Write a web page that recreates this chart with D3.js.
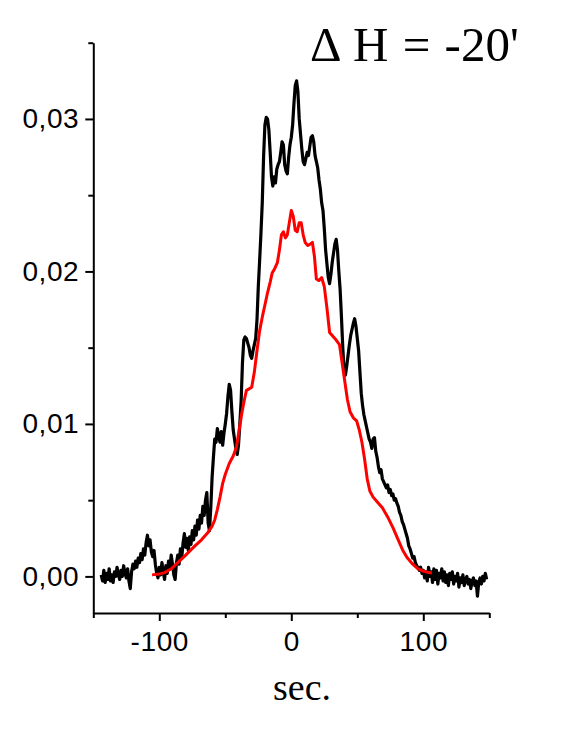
<!DOCTYPE html>
<html><head><meta charset="utf-8">
<script src="https://cdn.jsdelivr.net/npm/d3@7"></script>
<style>html,body{margin:0;padding:0;background:#fff;}</style>
</head><body>
<svg id="c" width="572" height="740"></svg>
<script>
const titleText = "\u0394 H = -20'";
const xLabel = "sec.";
const xMajorTicks = [-100, 0, 100];
const xMinorTicks = [-150, -50, 50, 150];
const xTickLabels = ["-100", "0", "100"];
const yMajorTicks = [0, 0.01, 0.02, 0.03];
const yMinorTicks = [0.005, 0.015, 0.025, 0.035];
const yTickLabels = ["0,00", "0,01", "0,02", "0,03"];

const black = [
[-144,0.0001],[-143,-0.0003],[-142,0.0004],[-141,-0.0004],[-140,0.0002],[-139,-0.0002],[-138,0.0005],[-137,-0.0003],[-136,0.0001],[-135,-0.0004],[-134,0.0003],[-133,0.0000],[-132,0.0006],[-131,0.0001],[-130,-0.0002],[-129,0.0004],[-128,0.0000],[-127,0.0007],[-126,0.0002],[-125,-0.0001],[-124,0.0005],[-123,-0.0003],[-122,-0.0008],[-121,0.0003],[-120,0.0008],[-119,0.0005],[-118,0.0010],[-117,0.0006],[-116,0.0012],[-115,0.0009],[-114,0.0015],[-113,0.0011],[-112,0.0018],[-111,0.0014],[-110,0.0022],[-109,0.0027],[-108,0.0020],[-107,0.0024],[-106,0.0016],[-105,0.0013],[-104,0.0017],[-103,0.0008],[-102,0.0002],[-101,-0.0001],[-100,0.0006],[-99,0.0001],[-98,0.0009],[-97,0.0003],[-96,-0.0002],[-95,0.0007],[-94,0.0002],[-93,0.0010],[-92,0.0005],[-91,0.0014],[-90,0.0008],[-89,0.0001],[-88,-0.0002],[-87,0.0009],[-86,0.0014],[-85,0.0008],[-84,0.0018],[-83,0.0012],[-82,0.0022],[-81,0.0028],[-80,0.0019],[-79,0.0025],[-78,0.0017],[-77,0.0026],[-76,0.0021],[-75,0.0030],[-74,0.0024],[-73,0.0033],[-72,0.0027],[-71,0.0037],[-70,0.0031],[-69,0.0040],[-68,0.0035],[-67,0.0046],[-66,0.0040],[-65,0.0050],[-64,0.0055],[-63,0.0035],[-62,0.0030],[-61,0.0045],[-60,0.0065],[-59,0.0078],[-58,0.0090],[-57,0.0088],[-56,0.0097],[-55,0.0092],[-54,0.0088],[-53,0.0095],[-52,0.0086],[-51,0.0094],[-50,0.0100],[-49,0.0107],[-48,0.0118],[-47,0.0126],[-46,0.0122],[-45,0.0108],[-44,0.0096],[-43,0.0090],[-42,0.0084],[-41,0.0080],[-40,0.0086],[-39,0.0100],[-38,0.0115],[-37,0.0140],[-36,0.0155],[-35,0.0157],[-34,0.0156],[-33,0.0153],[-32,0.0150],[-31,0.0145],[-30,0.0143],[-29,0.0148],[-28,0.0152],[-27,0.0156],[-26,0.0168],[-25,0.0190],[-24,0.0207],[-23,0.0225],[-22,0.0245],[-21,0.0275],[-20,0.0296],[-19,0.0301],[-18,0.0300],[-17,0.0293],[-16,0.0278],[-15,0.0262],[-14,0.0256],[-13,0.0262],[-12,0.0258],[-11,0.0267],[-10,0.0270],[-9,0.0272],[-8,0.0278],[-7,0.0285],[-6,0.0283],[-5,0.0270],[-4,0.0266],[-3,0.0264],[-2,0.0275],[-1,0.0283],[0,0.0288],[1,0.0296],[2,0.0310],[3,0.0322],[4,0.0325],[5,0.0318],[6,0.0300],[7,0.0290],[8,0.0280],[9,0.0272],[10,0.0270],[11,0.0274],[12,0.0278],[13,0.0276],[14,0.0282],[15,0.0288],[16,0.0289],[17,0.0285],[18,0.0276],[19,0.0272],[20,0.0268],[21,0.0260],[22,0.0254],[23,0.0245],[24,0.0240],[25,0.0228],[26,0.0214],[27,0.0205],[28,0.0196],[29,0.0192],[30,0.0198],[31,0.0206],[32,0.0212],[33,0.0218],[34,0.0221],[35,0.0214],[36,0.0200],[37,0.0188],[38,0.0170],[39,0.0150],[40,0.0135],[41,0.0132],[42,0.0138],[43,0.0145],[44,0.0152],[45,0.0158],[46,0.0162],[47,0.0166],[48,0.0169],[49,0.0164],[50,0.0156],[51,0.0148],[52,0.0134],[53,0.0120],[54,0.0112],[55,0.0106],[56,0.0102],[57,0.0098],[58,0.0094],[59,0.0090],[60,0.0088],[61,0.0084],[62,0.0090],[63,0.0091],[64,0.0082],[65,0.0078],[66,0.0072],[67,0.0068],[68,0.0070],[69,0.0064],[70,0.0062],[71,0.0060],[72,0.0058],[73,0.0060],[74,0.0055],[75,0.0057],[76,0.0053],[77,0.0054],[78,0.0050],[79,0.0051],[80,0.0048],[81,0.0046],[82,0.0042],[83,0.0040],[84,0.0036],[85,0.0034],[86,0.0031],[87,0.0028],[88,0.0025],[89,0.0020],[90,0.0018],[91,0.0015],[92,0.0012],[93,0.0013],[94,0.0009],[95,0.0007],[96,0.0006],[97,0.0004],[98,0.0006],[99,0.0002],[100,0.0004],[101,-0.0001],[102,0.0003],[103,-0.0003],[104,0.0006],[105,0.0000],[106,0.0003],[107,-0.0004],[108,0.0005],[109,-0.0002],[110,0.0004],[111,-0.0005],[112,0.0002],[113,-0.0001],[114,0.0005],[115,-0.0003],[116,0.0003],[117,-0.0004],[118,0.0001],[119,-0.0006],[120,0.0002],[121,-0.0002],[122,0.0003],[123,-0.0005],[124,0.0000],[125,-0.0003],[126,0.0002],[127,-0.0007],[128,-0.0001],[129,-0.0004],[130,0.0001],[131,-0.0006],[132,-0.0002],[133,0.0000],[134,-0.0005],[135,-0.0002],[136,-0.0008],[137,-0.0003],[138,-0.0001],[139,-0.0006],[140,-0.0003],[141,-0.0013],[142,-0.0004],[143,-0.0001],[144,-0.0005],[145,0.0000],[146,-0.0003],[147,0.0002],[148,-0.0002]
];

const red = [
[-105.5,0.00010],[-100,0.00015],[-96,0.00025],[-91,0.0005],[-86,0.0009],[-80,0.0014],[-73,0.0020],[-68,0.0024],[-63,0.0029],[-60,0.0033],[-58,0.0037],[-56,0.0044],[-54,0.0052],[-52,0.0061],[-50,0.0067],[-47,0.0074],[-44,0.0079],[-41.5,0.0085],[-39.5,0.0096],[-37.5,0.0107],[-35.5,0.0116],[-34,0.0122],[-32,0.0123],[-30,0.0124],[-28,0.0134],[-26,0.0148],[-24,0.0161],[-22,0.0170],[-20,0.0178],[-18,0.0186],[-16,0.0193],[-14.5,0.0199],[-12.5,0.0202],[-10.5,0.0206],[-9,0.0214],[-7.5,0.0224],[-6,0.0226],[-4.5,0.0222],[-3,0.0224],[-1.5,0.0232],[0,0.0240],[1.5,0.0236],[3,0.0227],[4.5,0.0226],[6,0.0232],[7.5,0.0232],[9,0.0224],[10.5,0.0219],[12.5,0.0217],[14.5,0.0218],[16,0.0219],[17.5,0.0210],[19,0.0195],[21,0.0194],[23,0.0196],[25,0.0190],[27,0.0176],[29,0.0160],[31,0.0158],[34,0.0155],[36.5,0.0152],[38.5,0.0140],[40.5,0.0128],[42.5,0.0116],[44.5,0.0108],[47,0.0104],[49.5,0.0102],[51.5,0.0096],[53.5,0.0088],[55.5,0.0077],[57.5,0.0064],[59.5,0.0056],[62,0.0052],[65,0.0049],[69,0.0045],[73,0.0039],[77,0.0032],[81,0.0024],[84.5,0.0017],[88,0.0012],[92,0.0008],[96,0.0005],[100,0.00035],[104,0.00025],[106.5,0.00022]
];

const svg = d3.select("#c");
const x = d3.scaleLinear().domain([-150, 150]).range([93.3, 489.3]);
const y = d3.scaleLinear().domain([-0.0024, 0.035]).range([613, 42.7]);

const sans = "'Liberation Sans', Arial, sans-serif";
const serif = "'Liberation Serif', 'Times New Roman', serif";

// x axis: major ticks with labels, minor ticks without
const gx = svg.append("g").attr("transform", `translate(0,${y(-0.0024)})`);
gx.call(d3.axisBottom(x).tickValues(xMajorTicks).tickSize(8).tickSizeOuter(0).tickFormat((d, i) => xTickLabels[i]));
gx.selectAll("text").attr("font-family", sans).attr("font-size", 28).attr("letter-spacing", 0.6)
  .attr("fill", "#000").attr("y", 18).attr("dy", "0.71em");
const gxm = svg.append("g").attr("transform", `translate(0,${y(-0.0024)})`);
gxm.call(d3.axisBottom(x).tickValues(xMinorTicks).tickSize(5).tickSizeOuter(0).tickFormat(""));
gxm.select(".domain").remove();

// y axis
const gy = svg.append("g").attr("transform", `translate(${x(-150)},0)`);
gy.call(d3.axisLeft(y).tickValues(yMajorTicks).tickSize(8).tickSizeOuter(0).tickFormat((d, i) => yTickLabels[i]));
gy.selectAll("text").attr("font-family", sans).attr("font-size", 28).attr("letter-spacing", 0.6)
  .attr("fill", "#000").attr("x", -14);
const gym = svg.append("g").attr("transform", `translate(${x(-150)},0)`);
gym.call(d3.axisLeft(y).tickValues(yMinorTicks).tickSize(5).tickSizeOuter(0).tickFormat(""));
gym.select(".domain").remove();

svg.selectAll(".domain, .tick line").attr("stroke", "#000").attr("stroke-width", 2);

const line = d3.line().x(d => x(d[0])).y(d => y(d[1]));
svg.append("path").datum(black).attr("d", line).attr("fill", "none")
  .attr("stroke", "#000").attr("stroke-width", 3.2).attr("stroke-linejoin", "round");
svg.append("path").datum(red).attr("d", line).attr("fill", "none")
  .attr("stroke", "#ff0000").attr("stroke-width", 3).attr("stroke-linejoin", "round");

svg.append("text").attr("x", 310).attr("y", 61).attr("font-family", serif).attr("font-size", 49)
  .attr("word-spacing", 2).attr("fill", "#000").text(titleText);
svg.append("text").attr("x", 302).attr("y", 700).attr("text-anchor", "middle").attr("font-family", serif)
  .attr("font-size", 38).attr("fill", "#000").text(xLabel);
</script>
</body></html>
